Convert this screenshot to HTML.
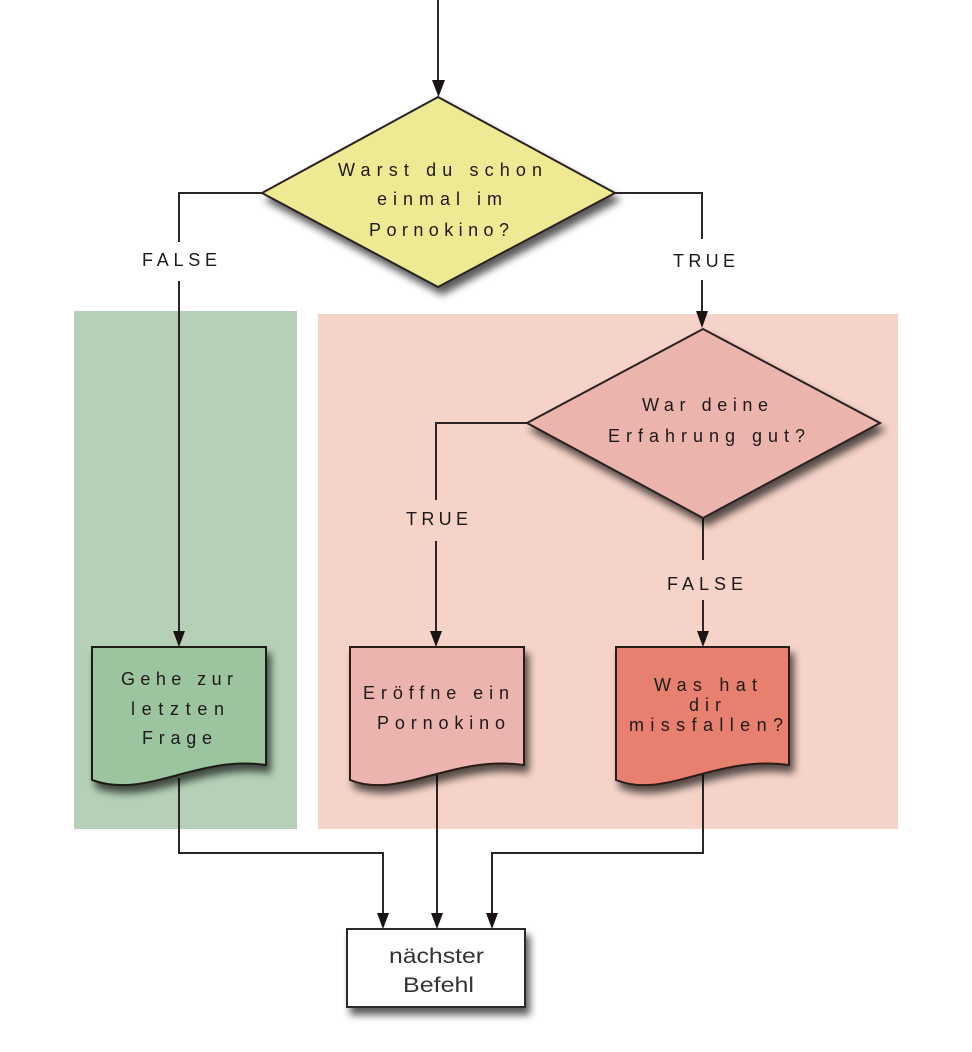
<!DOCTYPE html>
<html><head><meta charset="utf-8"><style>
html,body{margin:0;padding:0;background:#fff;}
svg{display:block;}
.lb{font-family:"Liberation Sans",sans-serif;font-size:18px;fill:#1e1a1a;}
.bx{font-family:"Liberation Sans",sans-serif;font-size:21px;fill:#333;}
</style></head><body>
<svg width="972" height="1052" viewBox="0 0 972 1052" xmlns="http://www.w3.org/2000/svg">
<defs>
<filter id="sh" x="-20%" y="-20%" width="150%" height="150%">
<feGaussianBlur in="SourceAlpha" stdDeviation="4"/>
<feOffset dx="4" dy="7" result="b"/>
<feComponentTransfer><feFuncA type="linear" slope="0.65"/></feComponentTransfer>
<feMerge><feMergeNode/><feMergeNode in="SourceGraphic"/></feMerge>
</filter>
</defs>

<!-- panels -->
<rect x="74" y="311" width="223" height="518" fill="#b5d0b7"/>
<rect x="318" y="314" width="580" height="515" fill="#f5d3c8"/>

<g stroke="#2b2626" stroke-width="2" fill="none">
<!-- top -->
<line x1="438" y1="0" x2="438" y2="82"/>
<!-- left false -->
<polyline points="262,193 179,193 179,242"/>
<line x1="179" y1="281" x2="179" y2="632"/>
<!-- right true -->
<polyline points="615,193 702,193 702,239"/>
<line x1="702" y1="280" x2="702" y2="313"/>
<!-- second diamond left true -->
<polyline points="527,423 436,423 436,500"/>
<line x1="436" y1="541" x2="436" y2="632"/>
<!-- second diamond false -->
<line x1="703" y1="518" x2="703" y2="560"/>
<line x1="703" y1="600" x2="703" y2="632"/>
<!-- bottom -->
<polyline points="179,778 179,853 383,853 383,915"/>
<line x1="437" y1="775" x2="437" y2="915"/>
<polyline points="703,772 703,853 492,853 492,915"/>
</g>

<g fill="#1a1414">
<polygon points="432,80 445,80 438.5,97"/>
<polygon points="173,631 185,631 179,647"/>
<polygon points="696,311 708,311 702,328"/>
<polygon points="430,631 442,631 436,647"/>
<polygon points="697,631 709,631 703,647"/>
<polygon points="377,913 389,913 383,929"/>
<polygon points="431,913 443,913 437,929"/>
<polygon points="486,913 498,913 492,929"/>
</g>

<!-- diamonds -->
<polygon points="438,97 615,193 438,287 262,193" fill="#eeea93" stroke="#2a2424" stroke-width="2" filter="url(#sh)"/>
<polygon points="703,329 880,423 703,518 527,423" fill="#ebb4ad" stroke="#2a2020" stroke-width="2" filter="url(#sh)"/>

<!-- documents -->
<path d="M92,647 L266,647 L266,765 C196,755 146,800 92,780 Z" fill="#9cc49f" stroke="#1c1a18" stroke-width="2" filter="url(#sh)"/>
<path d="M350,647 L524,647 L524,765 C450,755 400,800 350,780 Z" fill="#ebb4ae" stroke="#2a1a18" stroke-width="2" filter="url(#sh)"/>
<path d="M616,647 L789,647 L789,765 C715,755 665,800 616,780 Z" fill="#e8806f" stroke="#2a1a18" stroke-width="2" filter="url(#sh)"/>

<!-- bottom box -->
<rect x="347" y="929" width="178" height="78" fill="#fff" stroke="#2a2a2a" stroke-width="2" filter="url(#sh)"/>

<!-- labels -->
<text class="lb" x="338" y="176" textLength="204" lengthAdjust="spacing">Warst du schon</text>
<text class="lb" x="377" y="205" textLength="125" lengthAdjust="spacing">einmal im</text>
<text class="lb" x="369" y="236" textLength="140" lengthAdjust="spacing">Pornokino?</text>

<text class="lb" x="142" y="266" textLength="75" lengthAdjust="spacing">FALSE</text>
<text class="lb" x="673" y="267" textLength="62" lengthAdjust="spacing">TRUE</text>

<text class="lb" x="642" y="411" textLength="126" lengthAdjust="spacing">War deine</text>
<text class="lb" x="608" y="442" textLength="197" lengthAdjust="spacing">Erfahrung gut?</text>

<text class="lb" x="406" y="525" textLength="62" lengthAdjust="spacing">TRUE</text>
<text class="lb" x="667" y="590" textLength="76" lengthAdjust="spacing">FALSE</text>

<text class="lb" x="121" y="685" textLength="112" lengthAdjust="spacing">Gehe zur</text>
<text class="lb" x="131" y="715" textLength="93" lengthAdjust="spacing">letzten</text>
<text class="lb" x="142" y="744" textLength="70" lengthAdjust="spacing">Frage</text>

<text class="lb" x="363" y="699" textLength="146" lengthAdjust="spacing">Eröffne ein</text>
<text class="lb" x="377" y="729" textLength="128" lengthAdjust="spacing">Pornokino</text>

<text class="lb" x="654" y="691" textLength="103" lengthAdjust="spacing">Was hat</text>
<text class="lb" x="689" y="711" textLength="32" lengthAdjust="spacing">dir</text>
<text class="lb" x="629" y="731" textLength="154" lengthAdjust="spacing">missfallen?</text>

<text class="bx" x="389" y="963" textLength="95" lengthAdjust="spacingAndGlyphs">nächster</text>
<text class="bx" x="403" y="992" textLength="71" lengthAdjust="spacingAndGlyphs">Befehl</text>
</svg>
</body></html>
